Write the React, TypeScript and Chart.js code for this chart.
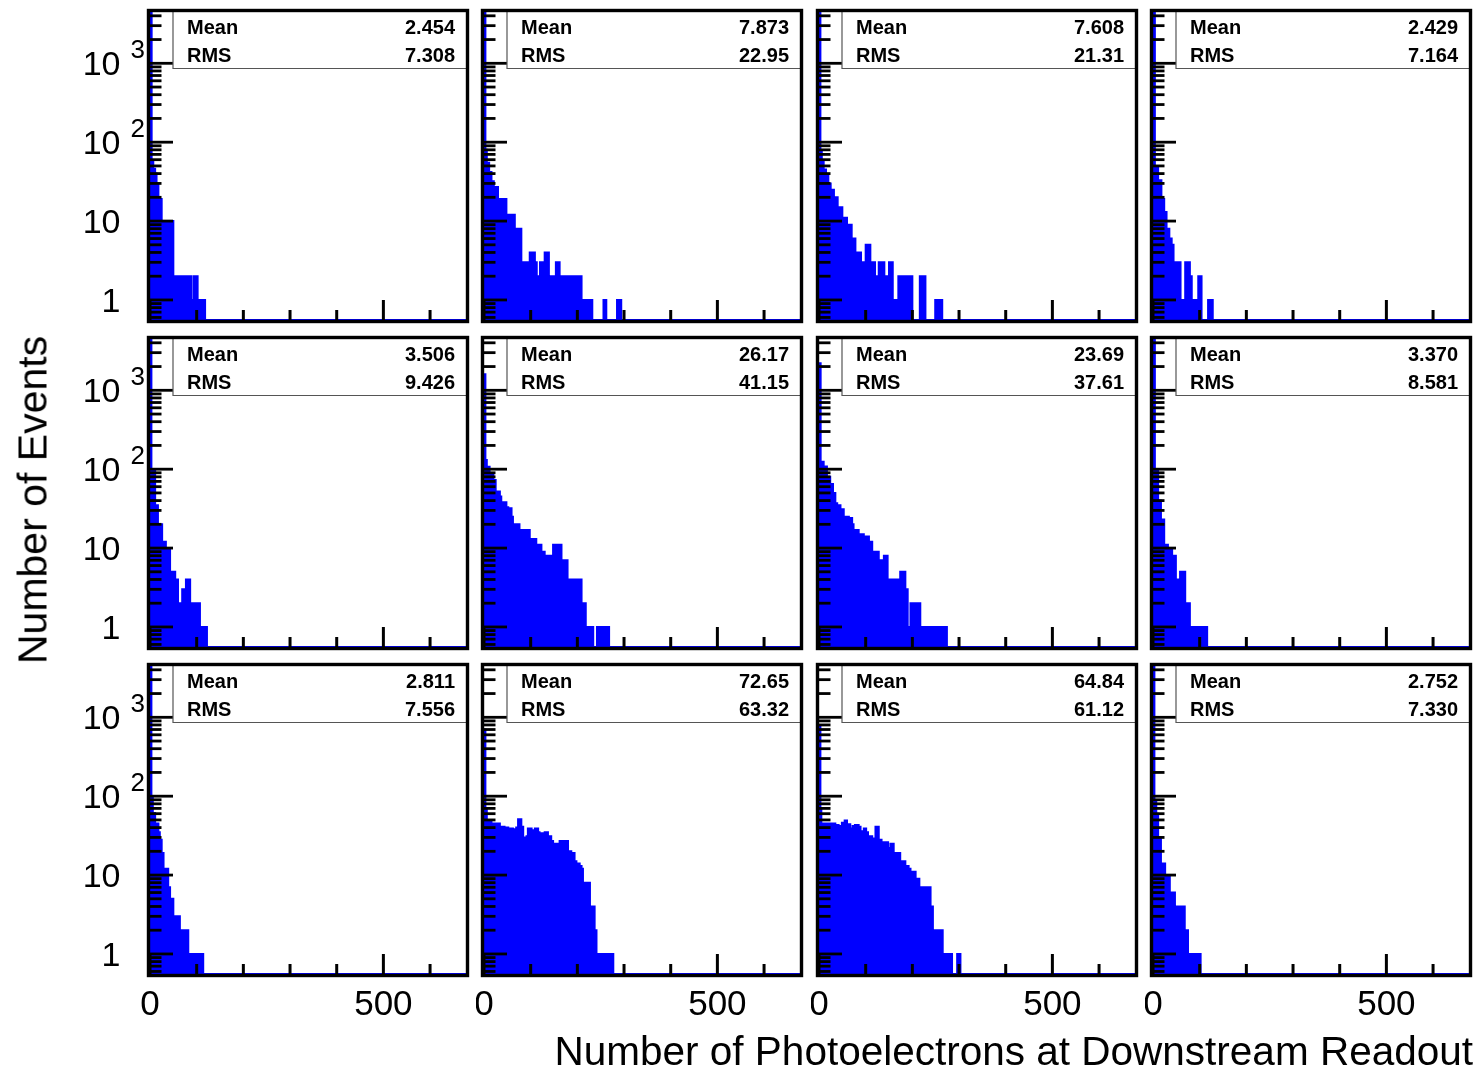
import React, { useEffect, useRef } from "react";
import { Chart, registerables } from "chart.js";

Chart.register(...registerables);

// ---------- axis ranges and ticks ----------
const X_MIN = 0;
const X_MAX = 677;
const Y_MIN = 0.557;
const Y_MAX = 4470;

const xMajorTicks = [0, 500];
const xMinorTicks = [100, 200, 300, 400, 600];
const xTickLabels = ["0", "500"];
const yDecadeTicks = [1, 10, 100, 1000];
const yTickBase = ["1", "10", "10", "10"];
const yTickExp = ["", "", "2", "3"];
const yMinorTicks = [
  0.6, 0.7, 0.8, 0.9, 2, 3, 4, 5, 6, 7, 8, 9, 20, 30, 40, 50, 60, 70, 80, 90,
  200, 300, 400, 500, 600, 700, 800, 900, 2000, 3000, 4000,
];

const xTitle = "Number of Photoelectrons at Downstream Readout";
const yTitle = "Number of Events";

// ---------- statistics boxes ----------
const statNames = ["Mean", "RMS"];
const meanValues = ["2.454", "7.873", "7.608", "2.429", "3.506", "26.17", "23.69", "3.370", "2.811", "72.65", "64.84", "2.752"];
const rmsValues = ["7.308", "22.95", "21.31", "7.164", "9.426", "41.15", "37.61", "8.581", "7.556", "63.32", "61.12", "7.330"];

// ---------- histogram contents (bin edges in p.e., counts per run of bins) ----------
const edgesR1C1 = [0, 3.5, 7, 11, 14, 18, 25, 31, 34, 50, 71, 75, 88, 93, 102, 118];
const countsR1C1 = [5000, 57, 46, 40, 29, 19, 10, 6, 10, 2, 1, 2, 1, 2, 1];

const edgesR1C2 = [0, 3, 6, 11, 16, 21, 30, 48, 66, 80, 98, 109, 113, 120, 130, 139, 154, 162, 184, 194, 209, 232, 256, 262, 285, 294];
const countsR1C2 = [5000, 80, 55, 42, 32, 27, 19, 12, 8, 3, 4, 3, 2, 3, 4, 2, 3, 2, 2, 2, 1, 0, 1, 0, 1];

const edgesR1C3 = [0, 3, 6, 10, 15, 20, 25, 32, 40, 50, 60, 70, 78, 90, 100, 110, 120, 128, 140, 150, 158, 170, 182, 186, 200, 216, 228, 249, 264];
const countsR1C3 = [5000, 75, 58, 45, 38, 30, 25, 20, 15, 11, 9, 6, 4, 3, 5, 3, 2, 3, 2, 3, 1, 2, 1, 2, 0, 2, 0, 1];

const edgesR1C4 = [0, 4, 11, 18, 24, 29, 35, 40, 44, 59, 69, 79, 83, 97, 104, 118, 128];
const countsR1C4 = [5000, 50, 33, 19, 13, 8, 6, 5, 3, 1, 3, 2, 1, 2, 0, 1];

const edgesR2C1 = [0, 3, 11, 17, 26, 34, 43, 54, 60, 69, 77, 86, 99, 107, 122];
const countsR2C1 = [5000, 98, 35, 20, 12, 10, 5, 4, 2, 3, 4, 2, 2, 1];

const edgesR2C2 = [0, 3, 6, 12, 20, 25, 34, 37, 48, 52, 59, 62, 76, 98, 112, 123, 130, 139, 142, 148, 166, 169, 179, 196, 199, 209, 218, 234, 242, 268];
const countsR2C2 = [1600, 131, 107, 85, 73, 52, 45, 38, 33, 32, 25, 20, 17, 13, 11, 9, 8, 5, 8, 11, 6, 7, 4, 3, 4, 2, 1, 0, 1];

const edgesR2C3 = [0, 3.5, 10, 17, 24, 30, 35, 39, 46, 53, 64, 71, 74, 85, 96, 107, 114, 117, 128, 135, 139, 147, 174, 185, 190, 196, 217, 232, 235, 262, 264, 274];
const countsR2C3 = [2200, 124, 108, 80, 65, 50, 37, 35, 31, 25, 24, 20, 17, 15, 14, 12, 7, 9, 7, 5, 8, 4, 5, 3, 1, 2, 1, 0, 1, 0, 1];

const edgesR2C4 = [0, 4, 11, 17, 24, 32, 41, 49, 58, 69, 79, 116];
const countsR2C4 = [5000, 98, 40, 23, 11, 10, 8, 4, 5, 2, 1];

const edgesR3C1 = [0, 3, 6, 11, 18, 21, 25, 29, 39, 43, 50, 64, 68, 82, 100, 104, 114];
const countsR3C1 = [5000, 99, 61, 45, 35, 28, 19, 12, 7, 5, 3, 2, 2, 1, 0, 1];

const edgesR3C2 = [0, 3, 6, 16, 25, 34, 37, 44, 52, 55, 62, 69, 73, 80, 84, 91, 94, 102, 109, 116, 119, 130, 137, 144, 148, 159, 162, 173, 180, 187, 194, 198, 205, 209, 212, 227, 237, 241, 277];
const countsR3C2 = [700, 67, 47, 45, 45, 36, 41, 40, 38, 39, 38, 40, 51, 41, 30, 31, 39, 37, 39, 35, 34, 35, 31, 27, 25, 21, 27, 27, 20, 19, 15, 14, 13, 12, 8, 4, 2, 1];

const edgesR3C3 = [0, 3, 5, 24, 35, 42, 49, 55, 60, 67, 72, 77, 85, 89, 96, 101, 105, 114, 121, 128, 134, 148, 153, 160, 174, 185, 192, 196, 207, 215, 239, 244, 257, 258, 265, 285, 296, 303];
const countsR3C3 = [800, 70, 45, 45, 43, 42, 46, 49, 44, 39, 42, 43, 41, 36, 39, 35, 31, 29, 41, 28, 26, 22, 25, 19, 15, 13, 12, 11, 9, 7, 4, 2, 1, 2, 1, 0, 1];

const edgesR3C4 = [0, 3, 7, 11, 17, 26, 36, 47, 58, 68, 75, 102];
const countsR3C4 = [5000, 89, 60, 30, 14, 10, 6, 4, 4, 2, 1];

const panelEdges = [
  edgesR1C1, edgesR1C2, edgesR1C3, edgesR1C4,
  edgesR2C1, edgesR2C2, edgesR2C3, edgesR2C4,
  edgesR3C1, edgesR3C2, edgesR3C3, edgesR3C4,
];
const panelCounts = [
  countsR1C1, countsR1C2, countsR1C3, countsR1C4,
  countsR2C1, countsR2C2, countsR2C3, countsR2C4,
  countsR3C1, countsR3C2, countsR3C3, countsR3C4,
];

// ---------- layout ----------
const COL_LEFT = [150, 484, 819, 1153];
const ROW_TOP = [12, 339, 666];
const AREA_W = 316;
const AREA_H = 308;
const FONT = '"Liberation Sans", Arial, Helvetica, sans-serif';

function makeDecor(row: number, col: number, index: number) {
  return {
    id: "rootDecor" + index,
    afterDraw(chart: any) {
      const ctx: CanvasRenderingContext2D = chart.ctx;
      const a = chart.chartArea;
      const xs = chart.scales.x;
      const ys = chart.scales.y;
      ctx.save();
      ctx.strokeStyle = "#000";
      ctx.lineCap = "butt";

      // x ticks (inward, from bottom)
      ctx.lineWidth = 3;
      xMinorTicks.forEach((v) => {
        const px = xs.getPixelForValue(v);
        ctx.beginPath();
        ctx.moveTo(px, a.bottom);
        ctx.lineTo(px, a.bottom - 10);
        ctx.stroke();
      });
      xMajorTicks.forEach((v) => {
        const px = xs.getPixelForValue(v);
        ctx.beginPath();
        ctx.moveTo(px, a.bottom);
        ctx.lineTo(px, a.bottom - 20);
        ctx.stroke();
      });

      // y ticks (inward, from left)
      ctx.lineWidth = 2.8;
      yMinorTicks.forEach((v) => {
        const py = ys.getPixelForValue(v);
        ctx.beginPath();
        ctx.moveTo(a.left, py);
        ctx.lineTo(a.left + 11.5, py);
        ctx.stroke();
      });
      yDecadeTicks.forEach((v) => {
        const py = ys.getPixelForValue(v);
        ctx.beginPath();
        ctx.moveTo(a.left, py);
        ctx.lineTo(a.left + 23, py);
        ctx.stroke();
      });

      // statistics box
      const bx = a.left + 23;
      const by = a.top - 1.5;
      const bw = a.right - bx;
      const bh = 58;
      ctx.fillStyle = "#fff";
      ctx.fillRect(bx, by, bw, bh);
      ctx.strokeStyle = "#555";
      ctx.lineWidth = 1.2;
      ctx.beginPath();
      ctx.moveTo(bx, by);
      ctx.lineTo(bx, by + bh);
      ctx.lineTo(a.right, by + bh);
      ctx.stroke();

      ctx.fillStyle = "#000";
      ctx.font = "bold 20px " + FONT;
      ctx.textBaseline = "alphabetic";
      const vals = [meanValues[index], rmsValues[index]];
      const baselines = [a.top + 21.5, a.top + 50];
      statNames.forEach((name, i) => {
        ctx.textAlign = "left";
        ctx.fillText(name, a.left + 37, baselines[i]);
        ctx.textAlign = "right";
        ctx.fillText(vals[i], a.right - 11, baselines[i]);
      });

      // frame
      ctx.strokeStyle = "#000";
      ctx.lineWidth = 3.4;
      ctx.strokeRect(a.left - 1.5, a.top - 1.5, a.right - a.left + 3, a.bottom - a.top + 3);

      // y tick labels (first column)
      if (col === 0) {
        yDecadeTicks.forEach((v, i) => {
          const py = ys.getPixelForValue(v);
          ctx.fillStyle = "#000";
          ctx.font = "34px " + FONT;
          ctx.textAlign = "right";
          ctx.fillText(yTickBase[i], a.left - 29.5, py + 12);
          if (yTickExp[i]) {
            ctx.font = "26px " + FONT;
            ctx.textAlign = "left";
            ctx.fillText(yTickExp[i], a.left - 19.5, py - 5);
          }
        });
      }
      // x tick labels (bottom row)
      if (row === 2) {
        ctx.fillStyle = "#000";
        ctx.font = "35px " + FONT;
        ctx.textAlign = "center";
        xMajorTicks.forEach((v, i) => {
          ctx.fillText(xTickLabels[i], xs.getPixelForValue(v), a.bottom + 41);
        });
      }
      ctx.restore();
    },
  };
}

function Panel({ index }: { index: number }) {
  const ref = useRef<HTMLCanvasElement | null>(null);
  const row = Math.floor(index / 4);
  const col = index % 4;
  const areaLeft = COL_LEFT[col];
  const areaTop = ROW_TOP[row];
  const padL = col === 0 ? areaLeft : 8;
  const padR = 8;
  const padT = 8;
  const padB = row === 2 ? 62 : 8;
  const W = padL + AREA_W + padR;
  const H = padT + AREA_H + padB;
  const left = areaLeft - padL;
  const top = areaTop - padT;

  useEffect(() => {
    const edges = panelEdges[index];
    const counts = panelCounts[index];
    const pts: { x: number; y: number }[] = [{ x: edges[0], y: Y_MIN }];
    counts.forEach((v, i) => pts.push({ x: edges[i], y: v > 0 ? v : Y_MIN }));
    pts.push({ x: edges[edges.length - 1], y: Y_MIN });
    pts.push({ x: X_MAX, y: Y_MIN });

    const chart = new Chart(ref.current as HTMLCanvasElement, {
      type: "line",
      data: {
        datasets: [
          {
            data: pts,
            stepped: true,
            borderColor: "#0000ff",
            backgroundColor: "#0000ff",
            borderWidth: 2,
            fill: "start",
            pointRadius: 0,
            tension: 0,
          } as any,
        ],
      },
      options: {
        animation: false,
        responsive: false,
        devicePixelRatio: 1,
        events: [],
        layout: { padding: { left: padL, right: padR, top: padT, bottom: padB } },
        scales: {
          x: { type: "linear", min: X_MIN, max: X_MAX, display: false },
          y: { type: "logarithmic", min: Y_MIN, max: Y_MAX, display: false },
        },
        plugins: {
          legend: { display: false },
          tooltip: { enabled: false },
          title: { display: false },
        },
      } as any,
      plugins: [makeDecor(row, col, index)],
    });
    return () => chart.destroy();
  }, []);

  return (
    <canvas
      ref={ref}
      width={W}
      height={H}
      style={{ position: "absolute", left, top, width: W, height: H }}
    />
  );
}

export default function App() {
  const panels = Array.from({ length: 12 }, (_, i) => i);
  return (
    <div
      style={{
        position: "absolute",
        left: 0,
        top: 0,
        width: 1482,
        height: 1071,
        overflow: "hidden",
        background: "#fff",
      }}
    >
      {panels.map((i) => (
        <Panel key={i} index={i} />
      ))}
      <div
        style={{
          position: "absolute",
          left: 32.5,
          top: 499.5,
          transform: "translate(-50%, -50%) rotate(-90deg)",
          font: "41px " + FONT,
          lineHeight: "41px",
          whiteSpace: "nowrap",
          color: "#000",
        }}
      >
        {yTitle}
      </div>
      <div
        style={{
          position: "absolute",
          left: 0,
          top: 1031,
          width: 1473,
          textAlign: "right",
          font: "40.5px " + FONT,
          lineHeight: "41px",
          whiteSpace: "nowrap",
          color: "#000",
        }}
      >
        {xTitle}
      </div>
    </div>
  );
}
